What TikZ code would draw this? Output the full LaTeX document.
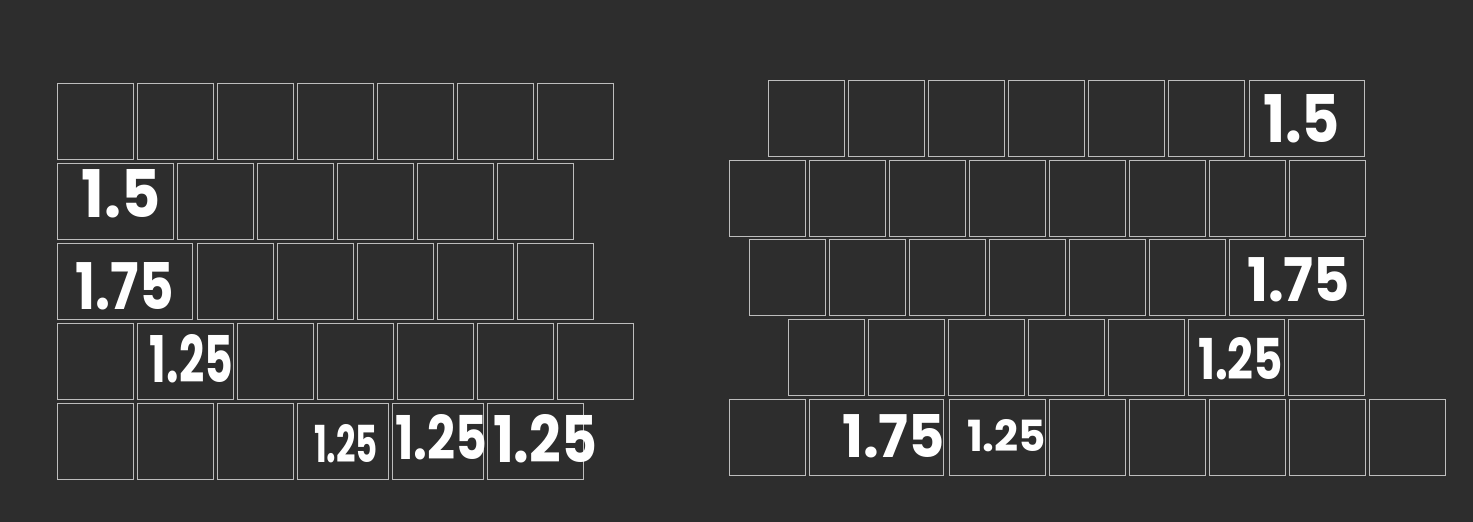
\documentclass[tikz,border=0pt]{standalone}
\usepackage{fontspec}
\usepackage{graphicx}
\newfontfamily\handfont{Poppins}
\definecolor{boardbg}{HTML}{2D2D2D}
\definecolor{keyline}{HTML}{BDBDBD}
% squeeze a written label into w x h (pixels)
\newcommand{\handlabel}[3]{\resizebox{#1pt}{#2pt}{#3}}
\begin{document}
\begin{tikzpicture}[x=1pt, y=-1pt,
     every node/.style = {outer sep = 0pt, inner sep = 0pt},
     keycap/.style = {draw=keyline, line width=1pt, anchor=north west,
        minimum height=76pt, minimum width=#1},
     keycap/.default = 76pt,
     hand/.style = {text=white, font=\handfont\bfseries}]
        \fill[boardbg] (0,0) rectangle (1473,522);
        \useasboundingbox (0,0) rectangle (1473,522);

        % left board
        \foreach \k in {0,...,6}
            \node [keycap] (L1-\k) at ({57+80*\k},83) {};
        \node [keycap=116pt] (L2-wide) at (57,163) {};
        \foreach \k in {0,...,4}
            \node [keycap] (L2-\k) at ({177+80*\k},163) {};
        \node [keycap=135pt] (L3-wide) at (57,243) {};
        \foreach \k in {0,...,4}
            \node [keycap] (L3-\k) at ({197+80*\k},243) {};
        \node [keycap] (L4-first) at (57,323) {};
        \node [keycap=96pt] (L4-wide) at (137,323) {};
        \foreach \k in {0,...,4}
            \node [keycap] (L4-\k) at ({237+80*\k},323) {};
        \foreach \k in {0,...,2}
            \node [keycap] (L5-\k) at ({57+80*\k},403) {};
        \node [keycap=91pt] (L5-a) at (297,403) {};
        \node [keycap=91pt] (L5-b) at (392,403) {};
        \node [keycap=96pt] (L5-c) at (487,403) {};

        % right board
        \foreach \k in {0,...,5}
            \node [keycap] (R1-\k) at ({768+80*\k},80) {};
        \node [keycap=115pt] (R1-wide) at (1249,80) {};
        \foreach \k in {0,...,7}
            \node [keycap] (R2-\k) at ({729+80*\k},160) {};
        \foreach \k in {0,...,5}
            \node [keycap] (R3-\k) at ({749+80*\k},239) {};
        \node [keycap=134pt] (R3-wide) at (1229,239) {};
        \foreach \k in {0,...,4}
            \node [keycap] (R4-\k) at ({788+80*\k},319) {};
        \node [keycap=96pt] (R4-wide) at (1188,319) {};
        \node [keycap] (R4-last) at (1288,319) {};
        \node [keycap] (R5-first) at (729,399) {};
        \node [keycap=134pt] (R5-wide) at (809,399) {};
        \node [keycap=96pt] (R5-mid) at (949,399) {};
        \foreach \k in {0,...,4}
            \node [keycap] (R5-\k) at ({1049+80*\k},399) {};

        % written sizes
        \node [hand] (L2-size) at (121.5,194) {\handlabel{79}{48}{1.5}};
        \node [hand] (L3-size) at (125,286.5) {\handlabel{98}{47}{1.75}};
        \node [hand] (L4-size) at (191.5,359) {\handlabel{83}{48}{1.25}};
        \node [hand] (L5-asize) at (346,444) {\handlabel{64}{38}{1.25}};
        \node [hand] (L5-bsize) at (441,437.5) {\handlabel{92}{45}{1.25}};
        \node [hand] (L5-csize) at (545,439) {\handlabel{104}{48}{1.25}};
        \node [hand] (R1-size) at (1301.5,119) {\handlabel{77}{48}{1.5}};
        \node [hand] (R3-size) at (1298.5,280) {\handlabel{103}{44}{1.75}};
        \node [hand] (R4-size) at (1240.5,359) {\handlabel{85}{42}{1.25}};
        \node [hand] (R5-wsize) at (893.5,436.5) {\handlabel{103}{43}{1.75}};
        \node [hand] (R5-msize) at (1006.5,436) {\handlabel{79}{32}{1.25}};
\end{tikzpicture}
\end{document}
